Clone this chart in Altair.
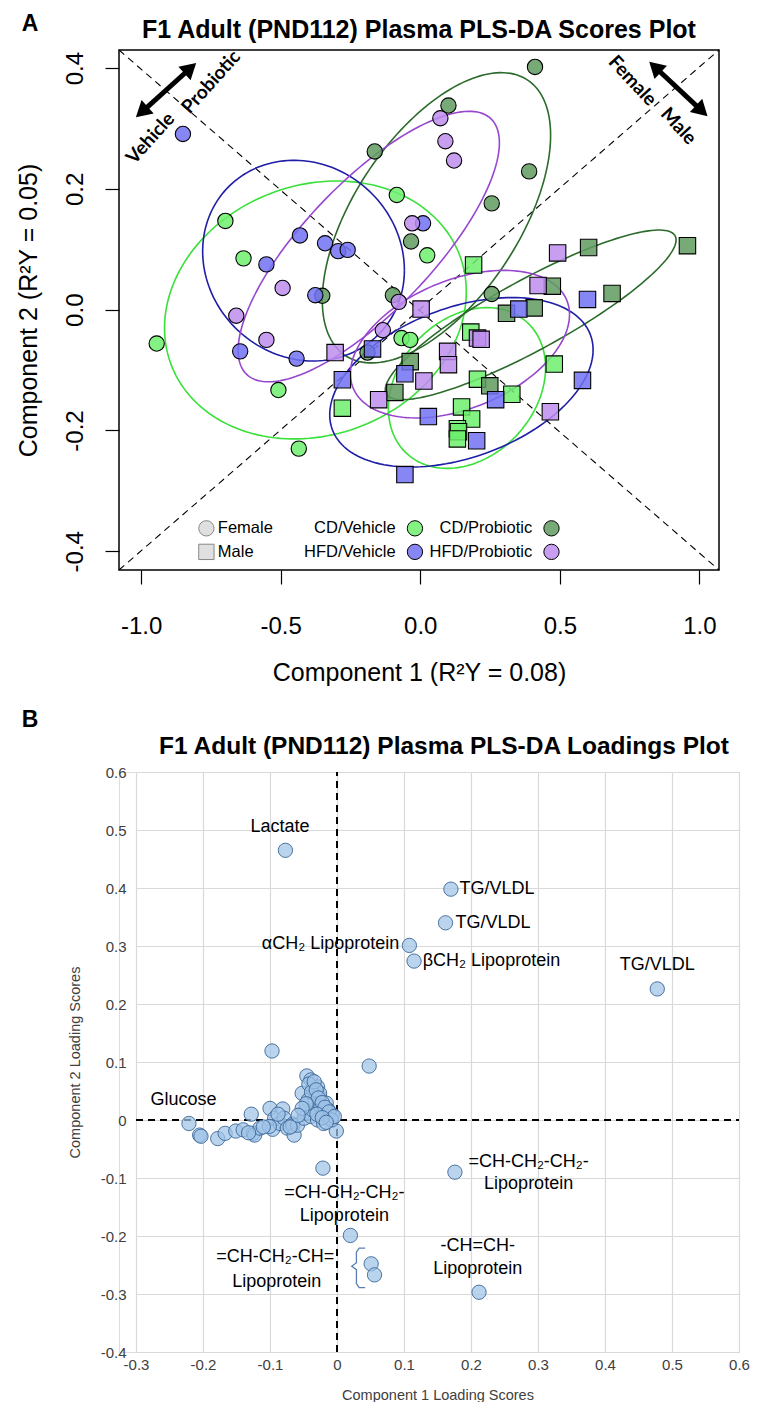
import math
import altair as alt
import pandas as pd

SANS = "Liberation Sans"
BOLD_LABEL = "Lato"

# ---------------------------------------------------------------
# Panel A - PLS-DA scores (component 1 vs component 2)
# ---------------------------------------------------------------
groups = ["CD/Vehicle", "CD/Probiotic", "HFD/Vehicle", "HFD/Probiotic"]
point_fill = ["#6DF06D", "#609B60", "#7171F2", "#BD8DED"]
ellipse_stroke = ["#38E038", "#2C6B2C", "#1E1EA6", "#9747CF"]

cd_vehicle_female_c1 = [-0.698, -0.084, -0.633, 0.025, -0.944, -0.508, -0.435, -0.067, -0.036]
cd_vehicle_female_c2 = [0.147, 0.190, 0.085, 0.090, -0.056, -0.133, -0.230, -0.047, -0.050]
cd_vehicle_male_c1 = [0.191, 0.181, 0.480, 0.205, 0.328, -0.279, 0.148, 0.184, 0.133, 0.137, 0.133]
cd_vehicle_male_c2 = [0.074, -0.037, -0.090, -0.115, -0.140, -0.163, -0.161, -0.181, -0.197, -0.202, -0.214]
cd_probiotic_female_c1 = [0.411, 0.101, -0.163, 0.390, 0.256, -0.033, -0.351, -0.098, 0.256, -0.189]
cd_probiotic_female_c2 = [0.402, 0.338, 0.262, 0.229, 0.176, 0.113, 0.023, 0.024, 0.026, -0.071]
cd_probiotic_male_c1 = [0.957, 0.603, 0.687, 0.473, 0.408, 0.309, -0.036, -0.091, 0.249]
cd_probiotic_male_c2 = [0.106, 0.103, 0.027, 0.039, 0.003, -0.006, -0.086, -0.137, -0.126]
hfd_vehicle_female_c1 = [-0.850, -0.431, -0.341, -0.294, -0.260, -0.551, -0.376, 0.010, -0.645, -0.443]
hfd_vehicle_female_c2 = [0.291, 0.123, 0.110, 0.097, 0.099, 0.075, 0.024, 0.143, -0.069, -0.081]
hfd_vehicle_male_c1 = [0.599, 0.353, -0.171, -0.279, -0.055, 0.581, 0.270, 0.029, 0.202, -0.055]
hfd_vehicle_male_c2 = [0.017, 0.001, -0.065, -0.116, -0.106, -0.117, -0.149, -0.177, -0.217, -0.273]
hfd_probiotic_female_c1 = [0.072, 0.090, 0.121, -0.029, -0.493, -0.659, -0.551, -0.077, -0.134]
hfd_probiotic_female_c2 = [0.317, 0.279, 0.247, 0.143, 0.036, -0.010, -0.050, 0.013, -0.034]
hfd_probiotic_male_c1 = [0.492, 0.422, 0.003, -0.305, 0.098, 0.101, 0.205, 0.218, 0.013, -0.149, 0.466]
hfd_probiotic_male_c2 = [0.094, 0.040, 0.001, -0.071, -0.069, -0.091, -0.047, -0.049, -0.118, -0.149, -0.169]

score_sets = {
    ("CD/Vehicle", "Female"): (cd_vehicle_female_c1, cd_vehicle_female_c2),
    ("CD/Vehicle", "Male"): (cd_vehicle_male_c1, cd_vehicle_male_c2),
    ("CD/Probiotic", "Female"): (cd_probiotic_female_c1, cd_probiotic_female_c2),
    ("CD/Probiotic", "Male"): (cd_probiotic_male_c1, cd_probiotic_male_c2),
    ("HFD/Vehicle", "Female"): (hfd_vehicle_female_c1, hfd_vehicle_female_c2),
    ("HFD/Vehicle", "Male"): (hfd_vehicle_male_c1, hfd_vehicle_male_c2),
    ("HFD/Probiotic", "Female"): (hfd_probiotic_female_c1, hfd_probiotic_female_c2),
    ("HFD/Probiotic", "Male"): (hfd_probiotic_male_c1, hfd_probiotic_male_c2),
}

X_DOMAIN_A = [-1.079, 1.070]
Y_DOMAIN_A = [-0.431, 0.430]
PLOT_W_A, PLOT_H_A = 600, 520

rows = []
for (g, s), (c1, c2) in score_sets.items():
    for a, b in zip(c1, c2):
        rows.append({"c1": a, "c2": b, "group": g, "sex": s})
scores = pd.DataFrame(rows)

# confidence ellipse per group x sex from the sample covariance
ELLIPSE_LEVEL = 0.70
ELLIPSE_K = math.sqrt(-2.0 * math.log(1.0 - ELLIPSE_LEVEL))


def confidence_ellipse(xs, ys, k, n=160):
    m = len(xs)
    mx, my = sum(xs) / m, sum(ys) / m
    sx = math.sqrt(sum((x - mx) ** 2 for x in xs) / (m - 1))
    sy = math.sqrt(sum((y - my) ** 2 for y in ys) / (m - 1))
    r = sum((x - mx) * (y - my) for x, y in zip(xs, ys)) / ((m - 1) * sx * sy)
    d = math.acos(max(-1.0, min(1.0, r)))
    pts = []
    for i in range(n + 1):
        t = 2 * math.pi * i / n
        pts.append((mx + k * sx * math.cos(t), my + k * sy * math.cos(t - d), i))
    return pts


ell_rows = []
for (g, s), (c1, c2) in score_sets.items():
    for x, y, i in confidence_ellipse(c1, c2, ELLIPSE_K):
        ell_rows.append({"c1": x, "c2": y, "group": g, "key": g + "|" + s, "ord": i})
ellipses = pd.DataFrame(ell_rows)

minus_fmt_a = "(datum.value < 0 ? '-' : '') + format(abs(datum.value), '.1f')"

axis_xa = alt.Axis(
    values=[-1.0, -0.5, 0.0, 0.5, 1.0], labelExpr=minus_fmt_a, labelFlush=False,
    title="Component 1 (R²Y = 0.08)", domain=False, grid=False,
    ticks=True, tickSize=14, tickColor="black", tickWidth=1.2,
    labelFont=SANS, labelFontSize=24, labelColor="black", labelPadding=30,
    titleFont=SANS, titleFontSize=25, titleFontWeight="normal", titleColor="black",
    titlePadding=22,
)
axis_ya = alt.Axis(
    values=[-0.4, -0.2, 0.0, 0.2, 0.4], labelExpr=minus_fmt_a, labelFlush=False,
    title="Component 2 (R²Y = 0.05)", domain=False, grid=False,
    ticks=True, tickSize=14, tickColor="black", tickWidth=1.2,
    labelAngle=270, labelAlign="center", labelBaseline="bottom",
    labelFont=SANS, labelFontSize=24, labelColor="black", labelPadding=18,
    titleFont=SANS, titleFontSize=25, titleFontWeight="normal", titleColor="black",
    titlePadding=22,
)
xa = alt.X("c1:Q", scale=alt.Scale(domain=X_DOMAIN_A, nice=False, zero=False), axis=axis_xa)
ya = alt.Y("c2:Q", scale=alt.Scale(domain=Y_DOMAIN_A, nice=False, zero=False), axis=axis_ya)

group_fill = alt.Fill("group:N", scale=alt.Scale(domain=groups, range=point_fill), legend=None)

diagonals = pd.DataFrame({
    "c1": [X_DOMAIN_A[0], X_DOMAIN_A[0]],
    "c2": [Y_DOMAIN_A[1], Y_DOMAIN_A[0]],
    "c1_end": [X_DOMAIN_A[1], X_DOMAIN_A[1]],
    "c2_end": [Y_DOMAIN_A[0], Y_DOMAIN_A[1]],
})
diag_layer = alt.Chart(diagonals).mark_rule(
    color="black", strokeWidth=1.1, strokeDash=[7, 5]
).encode(x=xa, y=ya, x2="c1_end:Q", y2="c2_end:Q")

ellipse_layer = alt.Chart(ellipses).mark_line(strokeWidth=1.6).encode(
    x=xa, y=ya, detail="key:N", order="ord:Q",
    color=alt.Color("group:N", scale=alt.Scale(domain=groups, range=ellipse_stroke), legend=None),
)

point_layer = alt.Chart(scores).mark_point(
    filled=True, stroke="black", strokeWidth=1.1, fillOpacity=0.85, opacity=1
).encode(
    x=xa, y=ya,
    shape=alt.Shape("sex:N", scale=alt.Scale(domain=["Female", "Male"], range=["circle", "square"]), legend=None),
    size=alt.Size("sex:N", scale=alt.Scale(domain=["Female", "Male"], range=[235, 270]), legend=None),
    fill=group_fill,
)

# in-plot key
legend_rows_y = [-0.362, -0.401]
sex_keys = pd.DataFrame({
    "label": ["Female", "Male"], "shape": ["circle", "square"],
    "c1": [-0.766, -0.766], "c2": legend_rows_y,
})
sex_text = sex_keys.assign(c1=-0.725)
group_keys = pd.DataFrame({
    "group": ["CD/Vehicle", "HFD/Vehicle", "CD/Probiotic", "HFD/Probiotic"],
    "c1": [-0.019, -0.019, 0.470, 0.470],
    "c2": legend_rows_y + legend_rows_y,
})
group_text = group_keys.assign(c1=[-0.088, -0.088, 0.401, 0.401])

sex_key_layer = alt.Chart(sex_keys).mark_point(
    filled=True, size=235, fill="#D4D4D4", stroke="#555555", strokeWidth=1
).encode(x=xa, y=ya, shape=alt.Shape("shape:N", scale=None))
sex_text_layer = alt.Chart(sex_text).mark_text(
    align="left", baseline="middle", font=SANS, fontSize=16.5, color="black"
).encode(x=xa, y=ya, text="label:N")
group_key_layer = alt.Chart(group_keys).mark_point(
    filled=True, size=235, stroke="black", strokeWidth=1, fillOpacity=0.85, shape="circle"
).encode(x=xa, y=ya, fill=group_fill)
group_text_layer = alt.Chart(group_text).mark_text(
    align="right", baseline="middle", font=SANS, fontSize=16.5, color="black"
).encode(x=xa, y=ya, text="group:N")

# double-headed direction arrows
px_x = PLOT_W_A / (X_DOMAIN_A[1] - X_DOMAIN_A[0])
px_y = PLOT_H_A / (Y_DOMAIN_A[1] - Y_DOMAIN_A[0])
arrow_ends = [((-1.022, 0.317), (-0.799, 0.410)), ((0.817, 0.412), (1.032, 0.319))]
shaft_rows, head_rows = [], []
for (x0, y0), (x1, y1) in arrow_ends:
    ang = math.degrees(math.atan2((x1 - x0) * px_x, (y1 - y0) * px_y)) % 360
    f = 0.11
    hx1, hy1 = x1 - f * (x1 - x0), y1 - f * (y1 - y0)
    hx0, hy0 = x0 + f * (x1 - x0), y0 + f * (y1 - y0)
    shaft_rows.append({"c1": hx0, "c2": hy0, "c1_end": hx1, "c2_end": hy1})
    head_rows.append({"c1": hx1, "c2": hy1, "rot": ang})
    head_rows.append({"c1": hx0, "c2": hy0, "rot": (ang + 180) % 360})
shaft_layer = alt.Chart(pd.DataFrame(shaft_rows)).mark_rule(
    color="black", strokeWidth=5
).encode(x=xa, y=ya, x2="c1_end:Q", y2="c2_end:Q")
head_layer = alt.Chart(pd.DataFrame(head_rows)).mark_point(
    shape="triangle-up", filled=True, color="black", size=330, opacity=1
).encode(x=xa, y=ya, angle=alt.Angle("rot:Q", scale=None))

direction_labels = pd.DataFrame({
    "label": ["Vehicle", "Probiotic", "Female", "Male"],
    "c1": [-0.966, -0.749, 0.760, 0.925],
    "c2": [0.284, 0.377, 0.379, 0.304],
    "rot": [312, 312, 47, 47],
})
direction_layer = alt.Chart(direction_labels).mark_text(
    font=BOLD_LABEL, fontWeight="bold", fontSize=19, color="black",
    align="center", baseline="middle"
).encode(x=xa, y=ya, text="label:N", angle=alt.Angle("rot:Q", scale=None))

title_a = alt.Chart(pd.DataFrame({"t": ["F1 Adult (PND112) Plasma PLS-DA Scores Plot"]})).mark_text(
    font=SANS, fontWeight="bold", fontSize=25, color="black", align="center", baseline="middle"
).encode(text="t:N", x=alt.value(PLOT_W_A / 2), y=alt.value(-20))
tag_a = alt.Chart(pd.DataFrame({"t": ["A"]})).mark_text(
    font=SANS, fontWeight="bold", fontSize=23, color="black", align="center", baseline="middle"
).encode(text="t:N", x=alt.value(-89), y=alt.value(-26))

panel_a = alt.layer(
    diag_layer, ellipse_layer, point_layer,
    sex_key_layer, sex_text_layer, group_key_layer, group_text_layer,
    shaft_layer, head_layer, direction_layer, title_a, tag_a,
).properties(
    width=PLOT_W_A, height=PLOT_H_A,
    view=alt.ViewBackground(stroke="black", strokeWidth=1.5),
)

# ---------------------------------------------------------------
# Panel B - PLS-DA loadings
# ---------------------------------------------------------------
load_c1 = [
    -0.077, 0.170, 0.162, 0.108, 0.115, 0.478, 0.176, 0.020, 0.051, 0.056, 0.212,
    -0.097, 0.048, -0.021,
    -0.221, -0.205, -0.203, -0.178, -0.167, -0.151, -0.140, -0.128, -0.125, -0.123, -0.115,
    -0.100, -0.096, -0.093, -0.085, -0.081, -0.101, -0.079, -0.074, -0.066, -0.066,
    -0.064, -0.059, -0.052, -0.049, -0.049, -0.045, -0.043, -0.039, -0.039,
    -0.036, -0.036, -0.033, -0.029, -0.029, -0.026, -0.026, -0.024, -0.020,
    -0.020, -0.016, -0.014, -0.013, -0.010, -0.007, -0.001,
    -0.042, -0.038, -0.034, -0.031, -0.028, -0.022, -0.018, -0.012, -0.008,
    -0.004, -0.030, -0.022, -0.016, -0.046, -0.052, -0.058, -0.070, -0.088,
    -0.110, -0.132,
]
load_c2 = [
    0.465, 0.398, 0.340, 0.301, 0.274, 0.226, -0.090, -0.199, -0.248, -0.267, -0.297,
    0.119, 0.093, -0.083,
    -0.006, -0.026, -0.028, -0.032, -0.023, -0.019, -0.017, 0.010, -0.023, -0.026, -0.014,
    0.020, -0.016, 0.003, -0.006, 0.019, -0.011, 0.003, -0.014, -0.007, -0.010,
    -0.026, -0.009, 0.046, 0.014, 0.003, 0.076, 0.034, 0.069, 0.006,
    0.054, 0.017, 0.034, 0.057, 0.000, 0.040, 0.046, 0.023, 0.011,
    -0.006, 0.029, 0.006, 0.017, 0.003, 0.009, -0.019,
    0.062, 0.048, 0.066, 0.052, 0.038, 0.030, 0.022, 0.014, 0.000,
    0.006, 0.010, 0.004, -0.004, 0.028, 0.020, 0.008, -0.012, 0.010,
    -0.012, -0.022,
]
loadings = pd.DataFrame({"c1": load_c1, "c2": load_c2})

X_DOMAIN_B = [-0.3, 0.6]
Y_DOMAIN_B = [-0.4, 0.6]
PLOT_W_B, PLOT_H_B = 620, 580
X_RANGE_B = [17, 620]

fmt_b = "datum.value == 0 ? '0' : ((datum.value < 0 ? '-' : '') + format(abs(datum.value), '.1f'))"
axis_xb = alt.Axis(
    values=[-0.3, -0.2, -0.1, 0.0, 0.1, 0.2, 0.3, 0.4, 0.5, 0.6], labelExpr=fmt_b,
    labelFlush=False,
    grid=True, gridColor="#D9D9D9", gridWidth=1.2, domain=False, ticks=False,
    labelFont=SANS, labelFontSize=15, labelColor="#404040", labelPadding=5,
    title="Component 1 Loading Scores", titleFont=SANS, titleFontSize=14.5,
    titleFontWeight="normal", titleColor="#404040", titlePadding=16,
)
axis_yb = alt.Axis(
    values=[-0.4, -0.3, -0.2, -0.1, 0.0, 0.1, 0.2, 0.3, 0.4, 0.5, 0.6], labelExpr=fmt_b,
    labelFlush=False,
    grid=True, gridColor="#D9D9D9", gridWidth=1.2, domain=False, ticks=False,
    labelFont=SANS, labelFontSize=15, labelColor="#404040", labelPadding=10,
    offset=-X_RANGE_B[0],
    title="Component 2 Loading Scores", titleFont=SANS, titleFontSize=14.5,
    titleFontWeight="normal", titleColor="#404040", titlePadding=18,
)
xb = alt.X("c1:Q", scale=alt.Scale(domain=X_DOMAIN_B, range=X_RANGE_B, nice=False, zero=False), axis=axis_xb)
yb = alt.Y("c2:Q", scale=alt.Scale(domain=Y_DOMAIN_B, nice=False, zero=False), axis=axis_yb)

zero_lines = pd.DataFrame({
    "c1": [0.0, X_DOMAIN_B[0]], "c1_end": [0.0, X_DOMAIN_B[1]],
    "c2": [Y_DOMAIN_B[0], 0.0], "c2_end": [Y_DOMAIN_B[1], 0.0],
})
zero_layer = alt.Chart(zero_lines).mark_rule(
    color="black", strokeWidth=2, strokeDash=[7, 5]
).encode(x=xb, y=yb, x2="c1_end:Q", y2="c2_end:Q")

loading_layer = alt.Chart(loadings).mark_point(
    filled=True, size=205, fill="#9FC3E8", stroke="#3A6797", strokeWidth=0.9,
    fillOpacity=0.72, opacity=1, shape="circle"
).encode(x=xb, y=yb)

label_text = ["Lactate", "TG/VLDL", "TG/VLDL", "αCH₂ Lipoprotein", "βCH₂ Lipoprotein", "TG/VLDL",
              "Glucose", "=CH-CH₂-CH₂-", "Lipoprotein", "=CH-CH₂-CH₂-", "Lipoprotein",
              "=CH-CH₂-CH=", "Lipoprotein", "-CH=CH-", "Lipoprotein"]
label_c1 = [-0.085, 0.183, 0.177, 0.093, 0.128, 0.478,
            -0.229, 0.286, 0.286, 0.011, 0.011,
            -0.092, -0.090, 0.210, 0.210]
label_c2 = [0.505, 0.398, 0.339, 0.303, 0.275, 0.268,
            0.034, -0.073, -0.111, -0.126, -0.166,
            -0.236, -0.280, -0.218, -0.257]
label_align = ["center", "left", "left", "right", "left", "center",
               "center", "center", "center", "center", "center",
               "center", "center", "center", "center"]
labels_b = pd.DataFrame({"label": label_text, "c1": label_c1, "c2": label_c2, "align": label_align})


def label_layer(al):
    return alt.Chart(labels_b[labels_b["align"] == al]).mark_text(
        align=al, baseline="middle", font=SANS, fontSize=18, color="black"
    ).encode(x=xb, y=yb, text="label:N")


# brace grouping the two =CH-CH2-CH= points
brace_spine, brace_arm, brace_nub = 0.029, 0.042, 0.022
brace_top, brace_bottom, brace_mid = -0.221, -0.289, -0.252
brace_c1 = [brace_arm, brace_spine + 0.004, brace_spine, brace_spine, brace_nub,
            brace_spine, brace_spine, brace_spine + 0.004, brace_arm]
brace_c2 = [brace_top, brace_top, brace_top - 0.007, brace_mid + 0.006, brace_mid,
            brace_mid - 0.006, brace_bottom + 0.007, brace_bottom, brace_bottom]
brace = pd.DataFrame({"c1": brace_c1, "c2": brace_c2, "ord": list(range(len(brace_c1)))})
brace_layer = alt.Chart(brace).mark_line(color="#5B7FB5", strokeWidth=1.3).encode(
    x=xb, y=yb, order="ord:Q"
)

title_b = alt.Chart(pd.DataFrame({"t": ["F1 Adult (PND112) Plasma PLS-DA Loadings Plot"]})).mark_text(
    font=SANS, fontWeight="bold", fontSize=24.5, color="black", align="center", baseline="middle"
).encode(text="t:N", x=alt.value(325), y=alt.value(-25))
tag_b = alt.Chart(pd.DataFrame({"t": ["B"]})).mark_text(
    font=SANS, fontWeight="bold", fontSize=23, color="black", align="center", baseline="middle"
).encode(text="t:N", x=alt.value(-89), y=alt.value(-52))

panel_b = alt.layer(
    zero_layer, loading_layer,
    label_layer("center"), label_layer("left"), label_layer("right"),
    brace_layer, title_b, tag_b,
).properties(width=PLOT_W_B, height=PLOT_H_B)

chart = alt.vconcat(panel_a, panel_b, spacing=22).properties(
    padding={"left": 15, "top": 12, "right": 0, "bottom": 0}
).configure_view(stroke=None).configure(background="white")

chart.save("out.html", embed_options={"renderer": "svg", "actions": False})
